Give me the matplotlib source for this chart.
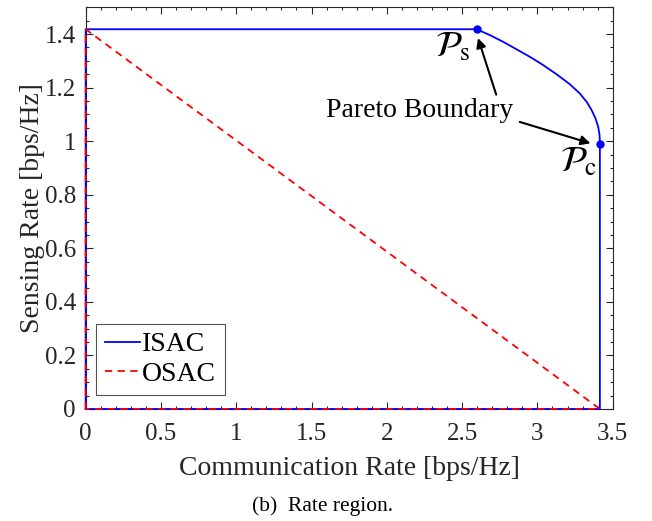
import matplotlib
matplotlib.use("Agg")
import matplotlib.pyplot as plt
from matplotlib.ticker import MultipleLocator

plt.rcParams['font.family'] = ['Liberation Serif', 'DejaVu Serif']
plt.rcParams['mathtext.fontset'] = 'stix'

# Pareto boundary of ISAC region
pareto_comm = [2.597, 2.685, 2.773, 2.862, 2.950, 3.039, 3.127, 3.215, 3.282,
               3.327, 3.360, 3.386, 3.404, 3.413, 3.415]
pareto_sens = [1.418, 1.396, 1.371, 1.343, 1.315, 1.284, 1.250, 1.213, 1.178,
               1.147, 1.116, 1.085, 1.053, 1.022, 0.989]

max_sens = 1.418
max_comm = 3.415

isac_x = [0, 0] + pareto_comm + [max_comm, 0]
isac_y = [0, max_sens] + pareto_sens + [0, 0]

osac_x = [0, 0, max_comm, 0]
osac_y = [0, max_sens, 0, 0]

fig = plt.figure(figsize=(6.52, 5.21), dpi=100)
ax = fig.add_axes([0.1314, 0.215, 0.8083, 0.771])

ax.plot(isac_x, isac_y, '-', color='#0000ff', lw=1.3, label='ISAC', clip_on=False, zorder=3)
ax.plot(osac_x, osac_y, '--', color='#ff0000', lw=1.3, label='OSAC', clip_on=False,
        dashes=(4, 3), zorder=3.1)
ax.plot([pareto_comm[0], pareto_comm[-1]], [pareto_sens[0], pareto_sens[-1]], 'o',
        color='#0000ff', ms=5, clip_on=False, zorder=3.2)

ax.set_xlim(0, 3.5)
ax.set_ylim(0, 1.5)
ax.set_xticks([0, 0.5, 1, 1.5, 2, 2.5, 3, 3.5])
ax.set_xticklabels(['0', '0.5', '1', '1.5', '2', '2.5', '3', '3.5'])
ax.set_yticks([0, 0.2, 0.4, 0.6, 0.8, 1, 1.2, 1.4])
ax.set_yticklabels(['0', '0.2', '0.4', '0.6', '0.8', '1', '1.2', '1.4'])
ax.xaxis.set_minor_locator(MultipleLocator(0.1))
ax.yaxis.set_minor_locator(MultipleLocator(0.05))
ax.tick_params(which='both', direction='in', top=True, right=True,
               colors='#262626', labelsize=18, width=0.8)
ax.tick_params(which='major', length=5, pad=7)
ax.tick_params(axis='x', which='major', pad=10)
ax.tick_params(which='minor', length=2.5)
for s in ax.spines.values():
    s.set_color('#262626')
    s.set_linewidth(0.8)

ax.set_xlabel('Communication Rate [bps/Hz]', fontsize=20, color='#262626', labelpad=8)
ax.set_ylabel('Sensing Rate [bps/Hz]', fontsize=20, color='#262626', labelpad=0)

ax.text(2.44, 1.35, r'$\mathcal{P}_{\mathrm{s}}$', fontsize=26, ha='center', va='center')
ax.text(3.27, 0.918, r'$\mathcal{P}_{\mathrm{c}}$', fontsize=26, ha='center', va='center')

ax.text(2.22, 1.116, 'Pareto Boundary', fontsize=20, ha='center', va='center')
ax.annotate('', xy=(2.60, 1.395), xytext=(2.732, 1.164),
            arrowprops=dict(arrowstyle='-|>', color='black', lw=1.5, mutation_scale=14))
ax.annotate('', xy=(3.37, 0.989), xytext=(2.865, 1.075),
            arrowprops=dict(arrowstyle='-|>', color='black', lw=1.5, mutation_scale=14))

leg = ax.legend(loc='lower left', bbox_to_anchor=(0.01, 0.02), fontsize=20,
                fancybox=False, handlelength=1.25, handletextpad=0.1,
                borderpad=0.3, labelspacing=0.15, borderaxespad=0.2)
leg.get_frame().set_edgecolor('#262626')
leg.get_frame().set_linewidth(0.8)

fig.text(0.494, 0.029, '(b)  Rate region.', fontsize=15.5, ha='center', va='center')

fig.savefig('out.png', dpi=100)
